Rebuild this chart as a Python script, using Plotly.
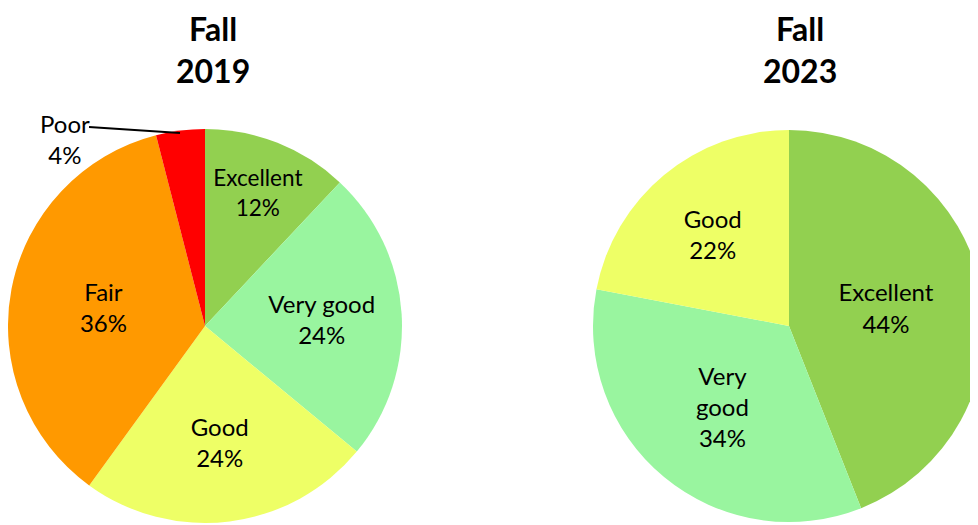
"""Fall 2019 vs Fall 2023 rating pies."""

import plotly.graph_objects as go

# Fall 2019
labels_2019 = ["Excellent", "Very good", "Good", "Fair", "Poor"]
values_2019 = [12, 24, 24, 36, 4]
text_2019 = ["Excellent", "Very good", "Good", "Fair", ""]

# Fall 2023
labels_2023 = ["Excellent", "Very good", "Good"]
values_2023 = [44, 34, 22]
text_2023 = ["Excellent", "Very<br>good", "Good"]

colors = {
    "Excellent": "#92D050",
    "Very good": "#99F59F",
    "Good": "#EEFF66",
    "Fair": "#FF9900",
    "Poor": "#FF0000",
}

W, H = 978, 525
OFF = 8  # default body margin of the html page
FONT = "Lato, Noto Sans, sans-serif"


def px_x(x):
    return min(max((x - OFF) / W, 0), 1)


def px_y(y):
    return min(max(1 - (y - OFF) / H, 0), 1)


def px_domain(x0, x1, y0, y1):
    # pixel box on the screen (top-left origin) -> paper domain
    return dict(x=[px_x(x0), px_x(x1)], y=[px_y(y1), px_y(y0)])


fig = go.Figure()

fig.add_trace(
    go.Pie(
        labels=labels_2019,
        values=values_2019,
        customdata=text_2019,
        texttemplate=["%{customdata}<br>%{percent:.0%}"] * 4 + [""],
        textposition="inside",
        insidetextorientation="horizontal",
        sort=False,
        direction="clockwise",
        marker=dict(colors=[colors[l] for l in labels_2019], line=dict(width=0)),
        textfont=dict(family=FONT, size=24, color="#000000"),
        domain=px_domain(8, 402, 129, 523),
        showlegend=False,
        hoverinfo="label+percent",
    )
)

fig.add_trace(
    go.Pie(
        labels=labels_2023,
        values=values_2023,
        customdata=text_2023,
        texttemplate="%{customdata}<br>%{percent:.0%}",
        textposition="inside",
        insidetextorientation="horizontal",
        sort=False,
        direction="clockwise",
        marker=dict(colors=[colors[l] for l in labels_2023], line=dict(width=0)),
        textfont=dict(family=FONT, size=24, color="#000000"),
        domain=px_domain(593, 985, 130, 522),
        showlegend=False,
        hoverinfo="label+percent",
    )
)

# Titles
for x_px, year in [(213, "2019"), (800, "2023")]:
    fig.add_annotation(
        x=px_x(x_px),
        y=1,
        xref="paper",
        yref="paper",
        text=f"<b>Fall<br>{year}</b>",
        showarrow=False,
        font=dict(family=FONT, size=32, color="#000000"),
        align="center",
        xanchor="center",
        yanchor="top",
        borderpad=0,
    )

# Poor label with leader line
fig.add_annotation(
    x=px_x(65),
    y=px_y(139),
    xref="paper",
    yref="paper",
    text=f"Poor<br>{values_2019[4]}%",
    showarrow=False,
    font=dict(family=FONT, size=24, color="#000000"),
    align="center",
    xanchor="center",
    yanchor="middle",
)
fig.add_shape(
    type="line",
    xref="paper",
    yref="paper",
    x0=px_x(89),
    y0=px_y(127),
    x1=px_x(180),
    y1=px_y(133),
    line=dict(color="#000000", width=2),
)

fig.update_layout(
    width=W,
    height=H,
    margin=dict(l=0, r=0, t=0, b=0),
    paper_bgcolor="#FFFFFF",
    plot_bgcolor="#FFFFFF",
)

fig.write_html("out.html")
